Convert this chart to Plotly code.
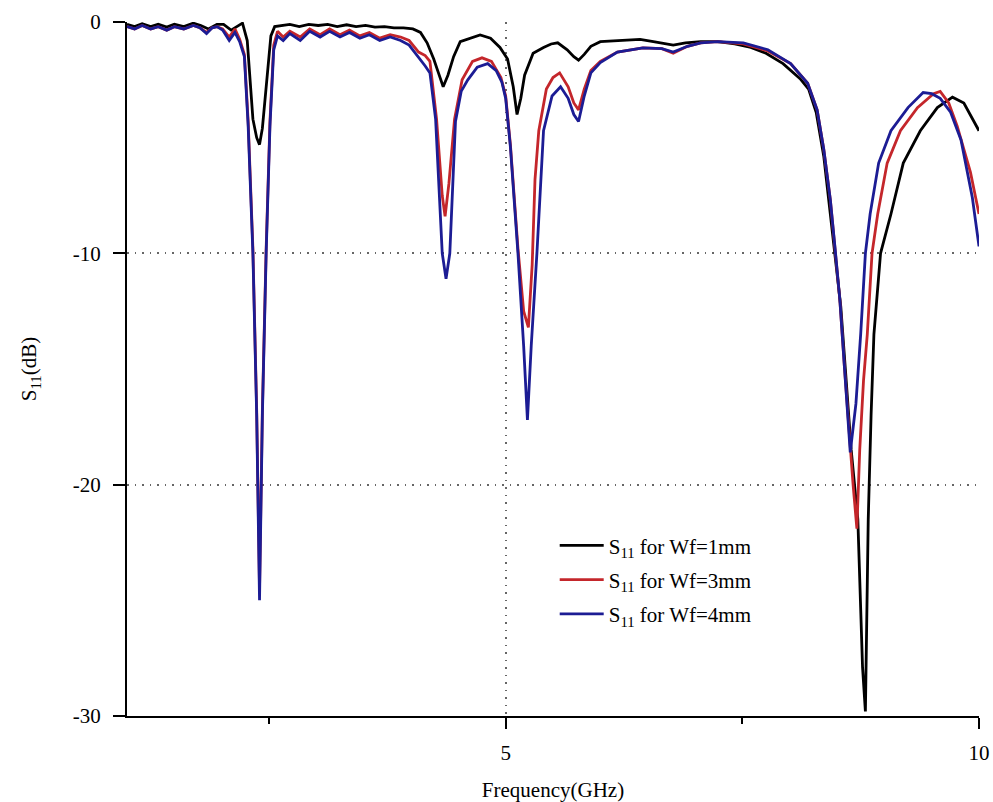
import plotly.graph_objects as go

# ---- data ----
f_1mm = [1.0, 1.08, 1.16, 1.25, 1.33, 1.42, 1.5, 1.6, 1.7, 1.78, 1.86, 1.95, 2.02, 2.1, 2.16, 2.22,
         2.27, 2.33, 2.37, 2.40, 2.43, 2.47, 2.52, 2.56, 2.63, 2.72, 2.82, 2.92, 3.02, 3.12, 3.22,
         3.32, 3.42, 3.52, 3.62, 3.72, 3.82, 3.92, 4.02, 4.1, 4.17, 4.24, 4.29, 4.34, 4.39, 4.45,
         4.52, 4.63, 4.73, 4.84, 4.94, 5.02, 5.08, 5.12, 5.16, 5.2, 5.29, 5.40, 5.48, 5.55, 5.65,
         5.72, 5.77, 5.83, 5.9, 6.0, 6.21, 6.42, 6.56, 6.77, 6.9, 7.06, 7.24, 7.42, 7.59, 7.75,
         7.93, 8.11, 8.2, 8.28, 8.36, 8.43, 8.48, 8.54, 8.59, 8.65, 8.72, 8.77, 8.80, 8.83, 8.86,
         8.89, 8.96, 9.07, 9.2, 9.38, 9.56, 9.72, 9.84, 9.93, 10.0]
s11_1mm = [-0.1, -0.2, -0.08, -0.2, -0.1, -0.22, -0.1, -0.2, -0.05, -0.15, -0.3, -0.1, -0.1, -0.35, -0.2, -0.05,
           -0.8, -4.2, -5.0, -5.3, -4.6, -2.8, -0.6, -0.2, -0.15, -0.1, -0.2, -0.1, -0.15, -0.1, -0.2,
           -0.12, -0.2, -0.15, -0.22, -0.2, -0.25, -0.25, -0.3, -0.45, -0.9, -1.6, -2.2, -2.8, -2.3, -1.5,
           -0.85, -0.7, -0.56, -0.7, -1.1, -1.6, -2.8, -4.0, -3.3, -2.3, -1.35, -1.1, -0.95, -0.9, -1.2,
           -1.5, -1.65, -1.4, -1.05, -0.85, -0.8, -0.75, -0.85, -1.0, -0.9, -0.85, -0.85, -0.95, -1.1, -1.35,
           -1.8, -2.45, -2.9, -3.9, -5.8, -8.3, -10.0, -12.3, -15.1, -18.5, -21.5, -27.9, -29.8, -21.5, -17.0,
           -13.5, -10.0, -8.3, -6.1, -4.7, -3.7, -3.25, -3.5, -4.2, -4.7]

f_3mm = [1.0, 1.08, 1.16, 1.25, 1.33, 1.42, 1.5, 1.6, 1.7, 1.77, 1.84, 1.9, 1.95, 2.01, 2.08, 2.14, 2.19,
         2.24, 2.28, 2.33, 2.37, 2.40, 2.43, 2.47, 2.51, 2.55, 2.59, 2.65, 2.72, 2.83, 2.93, 3.04, 3.14,
         3.25, 3.35, 3.46, 3.56, 3.67, 3.78, 3.89, 3.98, 4.08, 4.15, 4.2, 4.27, 4.33, 4.36, 4.40, 4.46,
         4.54, 4.65, 4.75, 4.85, 4.95, 5.0, 5.05, 5.13, 5.19, 5.24, 5.28, 5.31, 5.35, 5.43, 5.5, 5.57,
         5.66, 5.72, 5.77, 5.83, 5.9, 6.0, 6.18, 6.45, 6.65, 6.77, 6.92, 7.06, 7.24, 7.51, 7.77, 8.01,
         8.19, 8.29, 8.36, 8.43, 8.48, 8.53, 8.58, 8.64, 8.67, 8.71, 8.74, 8.78, 8.82, 8.87, 8.93, 9.03,
         9.17, 9.35, 9.52, 9.59, 9.68, 9.77, 9.91, 10.0]
s11_3mm = [-0.2, -0.3, -0.15, -0.3, -0.2, -0.35, -0.2, -0.3, -0.15, -0.25, -0.45, -0.25, -0.2, -0.3, -0.65, -0.3, -0.75,
           -1.4, -4.3, -9.8, -16.8, -24.5, -16.8, -9.8, -4.3, -1.0, -0.4, -0.65, -0.4, -0.65, -0.3, -0.55, -0.3,
           -0.55, -0.35, -0.6, -0.45, -0.7, -0.55, -0.65, -0.8, -1.3, -1.45, -1.7, -4.2, -7.5, -8.4, -7.0, -4.2,
           -2.5, -1.7, -1.55, -1.7, -2.4, -3.2, -5.3, -9.8, -12.5, -13.2, -10.5, -6.8, -4.7, -2.9, -2.4, -2.2,
           -2.8, -3.5, -3.8, -2.9, -2.1, -1.7, -1.3, -1.12, -1.15, -1.35, -1.05, -0.9, -0.85, -0.95, -1.25, -1.8,
           -2.65, -3.8, -5.5, -7.7, -9.8, -12.0, -15.0, -18.6, -20.0, -21.9, -18.5, -15.5, -13.5, -10.0, -8.3, -6.1,
           -4.7, -3.7, -3.1, -3.0, -3.5, -4.5, -6.5, -8.3]

f_4mm = [1.0, 1.08, 1.16, 1.25, 1.33, 1.42, 1.5, 1.6, 1.7, 1.77, 1.84, 1.9, 1.95, 2.01, 2.08, 2.14, 2.19,
         2.24, 2.28, 2.33, 2.37, 2.40, 2.43, 2.47, 2.51, 2.55, 2.59, 2.65, 2.72, 2.83, 2.93, 3.04, 3.14,
         3.25, 3.35, 3.46, 3.56, 3.67, 3.78, 3.89, 3.98, 4.08, 4.15, 4.2, 4.26, 4.33, 4.37, 4.41, 4.47,
         4.53, 4.6, 4.7, 4.81, 4.9, 4.96, 5.0, 5.05, 5.13, 5.19, 5.23, 5.27, 5.33, 5.37, 5.40, 5.49,
         5.58, 5.66, 5.72, 5.77, 5.83, 5.9, 6.0, 6.18, 6.45, 6.65, 6.77, 6.92, 7.06, 7.24, 7.51, 7.77,
         8.01, 8.19, 8.29, 8.36, 8.43, 8.48, 8.53, 8.58, 8.64, 8.70, 8.75, 8.80, 8.85, 8.94, 9.07, 9.25,
         9.41, 9.5, 9.59, 9.7, 9.81, 9.93, 10.0]
s11_4mm = [-0.2, -0.3, -0.15, -0.3, -0.2, -0.35, -0.2, -0.3, -0.15, -0.25, -0.5, -0.25, -0.2, -0.35, -0.8, -0.45, -0.85,
           -1.5, -4.5, -10.0, -17.0, -25.0, -17.0, -10.0, -4.5, -1.2, -0.6, -0.8, -0.5, -0.8, -0.4, -0.65, -0.4,
           -0.65, -0.45, -0.7, -0.55, -0.8, -0.65, -0.8, -1.0, -1.5, -1.9, -2.2, -4.2, -10.0, -11.1, -10.0, -4.3,
           -3.0, -2.5, -1.95, -1.8, -2.1, -2.6, -3.3, -5.4, -10.0, -14.0, -17.2, -14.0, -10.0, -6.8, -4.7, -3.2,
           -2.8, -3.3, -4.0, -4.3, -3.2, -2.2, -1.75, -1.3, -1.12, -1.15, -1.3, -1.05, -0.9, -0.85, -0.9, -1.2,
           -1.8, -2.65, -3.8, -5.5, -7.7, -9.8, -12.0, -15.0, -18.6, -16.5, -13.5, -10.0, -8.3, -6.1, -4.7, -3.7,
           -3.05, -3.1, -3.3, -3.9, -5.1, -7.6, -9.7]

series_names = ["S<sub>11</sub> for Wf=1mm", "S<sub>11</sub> for Wf=3mm", "S<sub>11</sub> for Wf=4mm"]
series_colors = ["#000000", "#c4262b", "#1c1c94"]

x_major_ticks = [5, 10]
x_major_text = ["5", "10"]
x_minor_ticks = [2.5, 7.5]
y_ticks = [0, -10, -20, -30]
y_tick_text = ["0", "-10", "-20", "-30"]

FONT = "Liberation Serif"

fig = go.Figure()
for fx, fy, name, col in zip([f_1mm, f_3mm, f_4mm], [s11_1mm, s11_3mm, s11_4mm], series_names, series_colors):
    fig.add_trace(go.Scatter(x=fx, y=fy, mode="lines", name=name, legendgroup=name,
                             line=dict(color=col, width=2.8)))

fig.update_layout(
    width=993, height=802,
    margin=dict(l=127, r=14, t=22, b=86),
    plot_bgcolor="white", paper_bgcolor="white",
    font=dict(family=FONT, size=21, color="black"),
    showlegend=True,
    legend=dict(x=0.502, y=0.275, xanchor="left", yanchor="top",
                bgcolor="rgba(0,0,0,0)", font=dict(family=FONT, size=21),
                tracegroupgap=4, itemwidth=44),
)
fig.update_xaxes(
    range=[1, 10], showline=True, linecolor="black", linewidth=2, automargin=False,
    tickmode="array", tickvals=x_major_ticks, ticktext=x_major_text,
    ticks="outside", ticklen=11, tickwidth=2, tickcolor="black",
    showgrid=True, gridcolor="#666666", gridwidth=1.5, griddash="1.5px,6px",
    zeroline=False, ticklabelstandoff=6,
    minor=dict(tickvals=x_minor_ticks, ticks="outside", ticklen=6, tickwidth=2,
               tickcolor="black", showgrid=False),
    title=dict(text="Frequency(GHz)", font=dict(family=FONT, size=21), standoff=24),
)
fig.update_yaxes(
    range=[-30, 0], showline=True, linecolor="black", linewidth=2, automargin=False,
    tickmode="array", tickvals=y_ticks, ticktext=y_tick_text,
    ticks="outside", ticklen=12, tickwidth=2, tickcolor="black",
    showgrid=True, gridcolor="#666666", gridwidth=1.5, griddash="1.5px,6px",
    zeroline=False, ticklabelstandoff=8,
    title=dict(text="S<sub>11</sub>(dB)", font=dict(family=FONT, size=21), standoff=30),
)

fig.write_html("out.html")
